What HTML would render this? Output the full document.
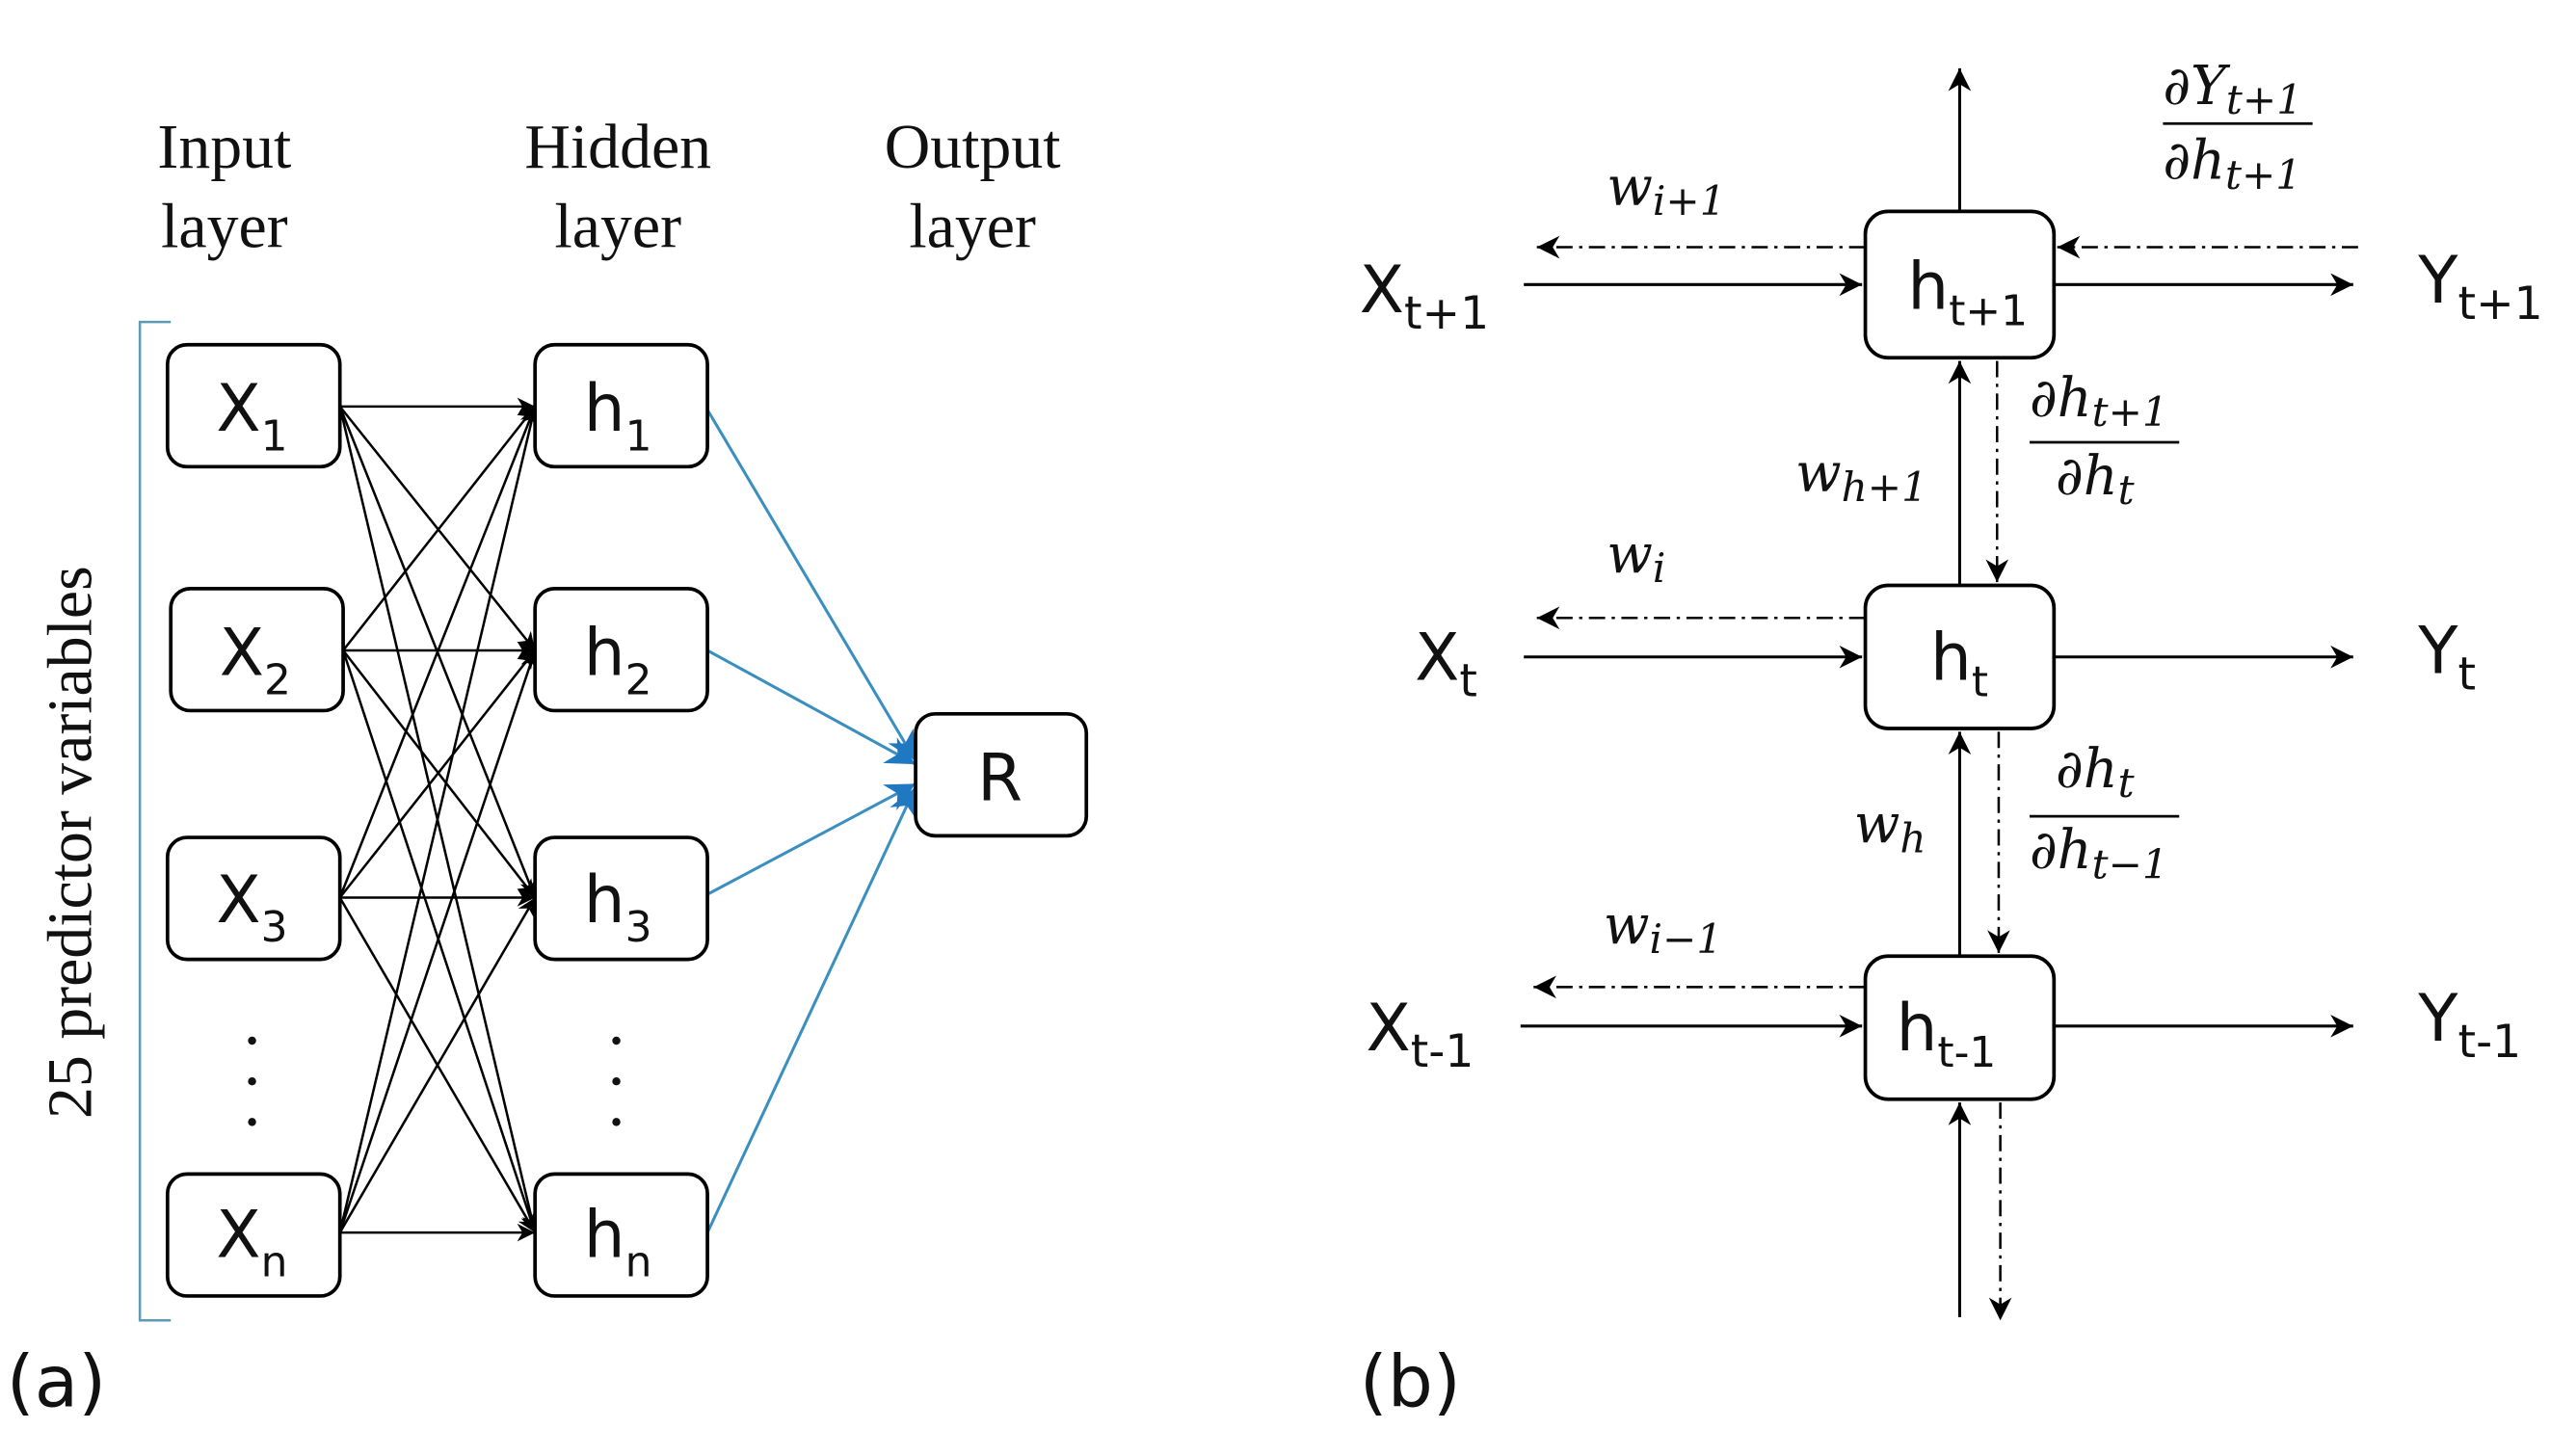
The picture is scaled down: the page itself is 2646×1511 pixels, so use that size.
<!DOCTYPE html>
<html><head><meta charset="utf-8"><style>
html,body{margin:0;padding:0;background:#fff;}
svg{display:block;}
.sans{font-family:"DejaVu Sans","Liberation Sans",sans-serif;}
.serif{font-family:"Liberation Serif",serif;}
.mi{font-family:"DejaVu Serif","Liberation Serif",serif;font-style:italic;}
</style></head><body>
<svg width="2646" height="1511" viewBox="0 0 1568 895.4" preserveAspectRatio="none" xmlns="http://www.w3.org/2000/svg">
<defs>
<marker id="ak" viewBox="0 0 10 10" refX="10" refY="5" markerWidth="11" markerHeight="11" orient="auto" markerUnits="userSpaceOnUse"><path d="M0,0 L10,5 L0,10 L3,5z" fill="#000"/></marker>
<marker id="ab" viewBox="0 0 10 10" refX="10" refY="5" markerWidth="14" markerHeight="14" orient="auto" markerUnits="userSpaceOnUse"><path d="M0,0 L10,5 L0,10 L3,5z" fill="#000"/></marker>
<marker id="abl" viewBox="0 0 10 10" refX="10" refY="5" markerWidth="18" markerHeight="18" orient="auto" markerUnits="userSpaceOnUse"><path d="M0,0 L10,5 L0,10 L3,5z" fill="#1f78c0"/></marker>
</defs>

<g class="serif" font-size="39" text-anchor="middle" fill="#111">
<text x="138" y="103">Input</text><text x="138" y="152">layer</text>
<text x="380" y="103">Hidden</text><text x="380" y="152">layer</text>
<text x="598" y="103">Output</text><text x="598" y="152">layer</text>
</g>
<path d="M105,198 H86 V812 H105" fill="none" stroke="#5b9bb5" stroke-width="1.5"/>
<text class="serif" font-size="39" fill="#111" text-anchor="middle" transform="translate(56,518) rotate(-90)">25 predictor variables</text>

<g stroke="#000" stroke-width="1.5" marker-end="url(#ak)">
<line x1="209" y1="250" x2="329" y2="250"/><line x1="209" y1="250" x2="329" y2="400"/><line x1="209" y1="250" x2="329" y2="552"/><line x1="209" y1="250" x2="329" y2="758"/>
<line x1="211" y1="400" x2="329" y2="250"/><line x1="211" y1="400" x2="329" y2="400"/><line x1="211" y1="400" x2="329" y2="552"/><line x1="211" y1="400" x2="329" y2="758"/>
<line x1="209" y1="552" x2="329" y2="250"/><line x1="209" y1="552" x2="329" y2="400"/><line x1="209" y1="552" x2="329" y2="552"/><line x1="209" y1="552" x2="329" y2="758"/>
<line x1="209" y1="758" x2="329" y2="250"/><line x1="209" y1="758" x2="329" y2="400"/><line x1="209" y1="758" x2="329" y2="552"/><line x1="209" y1="758" x2="329" y2="758"/>
</g>
<g stroke="#3a8fc0" stroke-width="1.8" marker-end="url(#abl)">
<line x1="435" y1="252" x2="563" y2="468"/><line x1="435" y1="400" x2="563" y2="470"/>
<line x1="435" y1="550" x2="563" y2="482"/><line x1="435" y1="758" x2="563" y2="484"/>
</g>

<g fill="#fff" stroke="#000" stroke-width="2.2">
<rect x="103" y="212" width="106" height="75" rx="12"/><rect x="105" y="362" width="106" height="75" rx="12"/>
<rect x="103" y="515" width="106" height="75" rx="12"/><rect x="103" y="722" width="106" height="75" rx="12"/>
<rect x="329" y="212" width="106" height="75" rx="12"/><rect x="329" y="362" width="106" height="75" rx="12"/>
<rect x="329" y="515" width="106" height="75" rx="12"/><rect x="329" y="722" width="106" height="75" rx="12"/>
<rect x="563" y="439" width="105" height="75" rx="12"/>
</g>
<g class="sans" font-size="40" fill="#111">
<text x="133" y="265">X<tspan font-size="26" dy="12">1</tspan></text>
<text x="135" y="415">X<tspan font-size="26" dy="12">2</tspan></text>
<text x="133" y="567">X<tspan font-size="26" dy="12">3</tspan></text>
<text x="133" y="773">X<tspan font-size="26" dy="12">n</tspan></text>
<text x="359" y="265">h<tspan font-size="26" dy="12">1</tspan></text>
<text x="359" y="415">h<tspan font-size="26" dy="12">2</tspan></text>
<text x="359" y="567">h<tspan font-size="26" dy="12">3</tspan></text>
<text x="359" y="773">h<tspan font-size="26" dy="12">n</tspan></text>
<text x="601" y="492">R</text>
</g>
<g fill="#111"><circle cx="155" cy="640" r="2.5"/><circle cx="155" cy="665" r="2.5"/><circle cx="155" cy="690" r="2.5"/>
<circle cx="379" cy="640" r="2.5"/><circle cx="379" cy="665" r="2.5"/><circle cx="379" cy="690" r="2.5"/></g>
<text class="sans" font-size="44" x="4" y="865" fill="#111">(a)</text>

<g stroke="#000" stroke-width="1.8" marker-end="url(#ab)">
<line x1="1205" y1="130" x2="1205" y2="42"/>
<line x1="1205" y1="360" x2="1205" y2="222"/>
<line x1="1205" y1="588" x2="1205" y2="450"/>
<line x1="1205" y1="810" x2="1205" y2="678"/>
<line x1="937" y1="175" x2="1145" y2="175"/><line x1="1263" y1="175" x2="1447" y2="175"/>
<line x1="937" y1="404" x2="1145" y2="404"/><line x1="1263" y1="404" x2="1447" y2="404"/>
<line x1="935" y1="631" x2="1145" y2="631"/><line x1="1263" y1="631" x2="1447" y2="631"/>
</g>
<g stroke="#000" stroke-width="1.5" stroke-dasharray="10,4,2,4" marker-end="url(#ab)">
<line x1="1228" y1="222" x2="1228" y2="358"/>
<line x1="1229" y1="450" x2="1229" y2="586"/>
<line x1="1230" y1="678" x2="1230" y2="812"/>
<line x1="1147" y1="152" x2="945" y2="152"/><line x1="1450" y1="152" x2="1265" y2="152"/>
<line x1="1147" y1="380" x2="945" y2="380"/>
<line x1="1147" y1="607" x2="943" y2="607"/>
</g>
<g fill="#fff" stroke="#000" stroke-width="2.2">
<rect x="1147" y="130" width="116" height="90" rx="14"/>
<rect x="1147" y="360" width="116" height="88" rx="14"/>
<rect x="1147" y="588" width="116" height="88" rx="14"/>
</g>
<g class="sans" font-size="40" fill="#111">
<text x="1173" y="190">h<tspan font-size="26" dy="10">t+1</tspan></text>
<text x="1187" y="418">h<tspan font-size="26" dy="10">t</tspan></text>
<text x="1166" y="646">h<tspan font-size="26" dy="10">t-1</tspan></text>
<text x="836" y="192">X<tspan font-size="28" dy="10">t+1</tspan></text>
<text x="870" y="418">X<tspan font-size="28" dy="10">t</tspan></text>
<text x="840" y="646">X<tspan font-size="28" dy="10">t-1</tspan></text>
<text x="1487" y="186">Y<tspan font-size="28" dy="10">t+1</tspan></text>
<text x="1487" y="414">Y<tspan font-size="28" dy="10">t</tspan></text>
<text x="1487" y="640">Y<tspan font-size="28" dy="10">t-1</tspan></text>
</g>
<g class="mi" font-size="33" fill="#111">
<text x="988" y="126">w<tspan font-size="25" dy="6">i+1</tspan></text>
<text x="988" y="352">w<tspan font-size="25" dy="6">i</tspan></text>
<text x="986" y="580">w<tspan font-size="25" dy="6">i−1</tspan></text>
<text x="1104" y="302">w<tspan font-size="25" dy="6">h+1</tspan></text>
<text x="1140" y="518">w<tspan font-size="25" dy="6">h</tspan></text>
<text x="1330" y="64">∂Y<tspan font-size="25" dy="6">t+1</tspan></text>
<text x="1330" y="110">∂h<tspan font-size="25" dy="6">t+1</tspan></text>
<text x="1248" y="256">∂h<tspan font-size="25" dy="6">t+1</tspan></text>
<text x="1264" y="304">∂h<tspan font-size="25" dy="6">t</tspan></text>
<text x="1264" y="484">∂h<tspan font-size="25" dy="6">t</tspan></text>
<text x="1248" y="534">∂h<tspan font-size="25" dy="6">t−1</tspan></text>
</g>
<g stroke="#000" stroke-width="1.6">
<line x1="1330" y1="76" x2="1422" y2="76"/>
<line x1="1248" y1="272" x2="1340" y2="272"/>
<line x1="1248" y1="502" x2="1340" y2="502"/>
</g>
<text class="sans" font-size="44" x="836" y="865" fill="#111">(b)</text>
</svg>
</body></html>
